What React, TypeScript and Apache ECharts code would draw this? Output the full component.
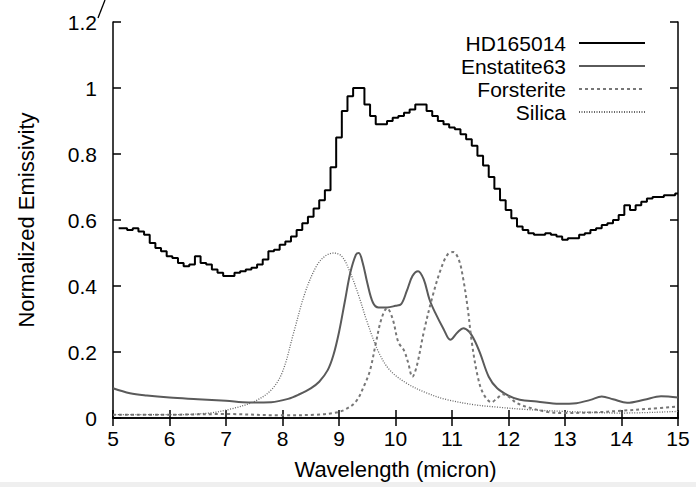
import React, { useEffect, useRef } from "react";
import * as echarts from "echarts";

const hdWave = [5.1, 5.2, 5.3, 5.4, 5.5, 5.6, 5.7, 5.8, 5.9, 6.0, 6.1, 6.2, 6.3, 6.4, 6.5, 6.6, 6.7, 6.8, 6.9, 7.0, 7.1, 7.2, 7.3, 7.4, 7.5, 7.6, 7.7, 7.8, 7.9, 8.0, 8.1, 8.2, 8.3, 8.4, 8.5, 8.6, 8.7, 8.8, 8.9, 9.0, 9.1, 9.2, 9.3, 9.4, 9.5, 9.6, 9.7, 9.8, 9.9, 10.0, 10.1, 10.2, 10.3, 10.4, 10.5, 10.6, 10.7, 10.8, 10.9, 11.0, 11.1, 11.2, 11.3, 11.4, 11.5, 11.6, 11.7, 11.8, 11.9, 12.0, 12.1, 12.2, 12.3, 12.4, 12.5, 12.6, 12.7, 12.8, 12.9, 13.0, 13.1, 13.2, 13.3, 13.4, 13.5, 13.6, 13.7, 13.8, 13.9, 14.0, 14.1, 14.2, 14.3, 14.4, 14.5, 14.6, 14.7, 14.8, 14.9, 15.0];
const hdFlux = [0.575, 0.575, 0.57, 0.575, 0.565, 0.555, 0.53, 0.515, 0.505, 0.49, 0.485, 0.47, 0.46, 0.465, 0.49, 0.47, 0.465, 0.45, 0.44, 0.43, 0.43, 0.44, 0.445, 0.45, 0.455, 0.465, 0.48, 0.505, 0.51, 0.525, 0.535, 0.55, 0.57, 0.59, 0.61, 0.635, 0.66, 0.69, 0.76, 0.85, 0.93, 0.975, 1.0, 1.0, 0.95, 0.915, 0.89, 0.89, 0.9, 0.91, 0.915, 0.925, 0.935, 0.95, 0.95, 0.93, 0.915, 0.9, 0.89, 0.88, 0.875, 0.86, 0.845, 0.825, 0.795, 0.765, 0.73, 0.695, 0.66, 0.63, 0.605, 0.58, 0.57, 0.56, 0.555, 0.555, 0.56, 0.555, 0.55, 0.54, 0.545, 0.545, 0.555, 0.56, 0.57, 0.575, 0.585, 0.59, 0.6, 0.615, 0.645, 0.63, 0.645, 0.655, 0.665, 0.67, 0.67, 0.675, 0.675, 0.68];

const enWave = [5.0, 5.3, 5.6, 6.0, 6.5, 7.0, 7.4, 7.8, 8.1, 8.3, 8.5, 8.65, 8.8, 8.9, 9.0, 9.1, 9.2, 9.3, 9.35, 9.42, 9.5, 9.6, 9.7, 9.85, 10.0, 10.1, 10.2, 10.3, 10.4, 10.5, 10.6, 10.7, 10.85, 10.97, 11.1, 11.2, 11.3, 11.4, 11.5, 11.65, 11.8, 12.0, 12.2, 12.5, 12.9, 13.2, 13.45, 13.65, 13.85, 14.1, 14.4, 14.7, 15.0];
const enFlux = [0.09, 0.075, 0.068, 0.062, 0.057, 0.052, 0.047, 0.048, 0.058, 0.072, 0.09, 0.11, 0.145, 0.19, 0.26, 0.35, 0.44, 0.495, 0.5, 0.47, 0.41, 0.35, 0.335, 0.335, 0.34, 0.345, 0.385, 0.43, 0.445, 0.42, 0.36, 0.32, 0.27, 0.237, 0.26, 0.272, 0.262, 0.235, 0.195, 0.125, 0.09, 0.068, 0.055, 0.05, 0.043, 0.045, 0.055, 0.065, 0.057, 0.046, 0.055, 0.066, 0.062];

const foWave = [5.0, 6.0, 7.0, 8.0, 8.6, 8.9, 9.1, 9.3, 9.45, 9.55, 9.65, 9.75, 9.85, 9.95, 10.05, 10.15, 10.22, 10.3, 10.38, 10.5, 10.65, 10.8, 10.92, 11.02, 11.12, 11.2, 11.28, 11.35, 11.45, 11.55, 11.7, 11.8, 11.9, 12.0, 12.15, 12.4, 12.7, 13.0, 13.5, 14.0, 14.5, 15.0];
const foFlux = [0.01, 0.01, 0.012, 0.008, 0.01, 0.015, 0.025, 0.05, 0.1, 0.145, 0.225, 0.3, 0.333, 0.3, 0.23, 0.205, 0.17, 0.125, 0.16, 0.26, 0.365, 0.45, 0.495, 0.503, 0.48, 0.42, 0.33, 0.23, 0.13, 0.075, 0.048, 0.06, 0.072, 0.065, 0.045, 0.03, 0.018, 0.015, 0.017, 0.022, 0.028, 0.035];

const siWave = [5.0, 6.0, 6.7, 7.1, 7.5, 7.8, 8.0, 8.2, 8.4, 8.6, 8.75, 8.9, 9.05, 9.2, 9.35, 9.5, 9.7, 9.9, 10.2, 10.55, 10.9, 11.4, 11.8, 12.3, 13.0, 14.0, 15.0];
const siFlux = [0.01, 0.01, 0.015, 0.028, 0.05, 0.085, 0.14, 0.26, 0.38, 0.46, 0.49, 0.5, 0.49, 0.44, 0.37, 0.29, 0.2, 0.145, 0.105, 0.076, 0.056, 0.04, 0.033, 0.026, 0.02, 0.015, 0.02];

const seriesNames = ["HD165014", "Enstatite63", "Forsterite", "Silica"];
const xTicks = { min: 5, max: 15, step: 1 };
const yTicks = { min: 0, max: 1.2, step: 0.2 };

const zip = (xs: number[], ys: number[]) => xs.map((x, i) => [x, ys[i]]);

const FONT = "Liberation Sans";

export default function App() {
  const ref = useRef<HTMLDivElement>(null);
  useEffect(() => {
    if (!ref.current) return;
    const chart = echarts.init(ref.current, undefined, { renderer: "svg" });
    const axisLine = { show: true, lineStyle: { color: "#000", width: 1.5 } };
    const tick = { show: true, inside: true, length: 8, lineStyle: { color: "#000", width: 1.5 } };
    chart.setOption({
      animation: false,
      backgroundColor: "#fff",
      textStyle: { fontFamily: FONT },
      grid: { left: 113, right: 18, top: 22, bottom: 69, containLabel: false },
      legend: {
        data: seriesNames,
        orient: "vertical",
        right: 45,
        top: 27,
        align: "right",
        itemWidth: 66,
        itemHeight: 12,
        itemGap: 1,
        itemStyle: { opacity: 0 },
        textStyle: { fontFamily: FONT, fontSize: 21, color: "#000", lineHeight: 22, padding: [0, 8, 0, 0] },
      },
      xAxis: [
        {
          type: "value",
          min: xTicks.min,
          max: xTicks.max,
          interval: xTicks.step,
          name: "Wavelength (micron)",
          nameLocation: "middle",
          nameGap: 40,
          nameTextStyle: { fontFamily: FONT, fontSize: 22, color: "#000" },
          axisLine,
          axisTick: tick,
          axisLabel: { fontFamily: FONT, fontSize: 21, color: "#000", margin: 10 },
          splitLine: { show: false },
        },
        {
          type: "value",
          position: "top",
          min: xTicks.min,
          max: xTicks.max,
          interval: xTicks.step,
          axisLine,
          axisTick: tick,
          axisLabel: { show: false },
          splitLine: { show: false },
        },
      ],
      yAxis: [
        {
          type: "value",
          min: yTicks.min,
          max: yTicks.max,
          interval: yTicks.step,
          name: "Normalized Emissivity",
          nameLocation: "middle",
          nameGap: 76,
          nameTextStyle: { fontFamily: FONT, fontSize: 22, color: "#000" },
          axisLine,
          axisTick: tick,
          axisLabel: { fontFamily: FONT, fontSize: 21, color: "#000", margin: 16 },
          splitLine: { show: false },
        },
        {
          type: "value",
          position: "right",
          min: yTicks.min,
          max: yTicks.max,
          interval: yTicks.step,
          axisLine,
          axisTick: tick,
          axisLabel: { show: false },
          splitLine: { show: false },
        },
      ],
      graphic: [
        { type: "line", shape: { x1: 98, y1: 18, x2: 105, y2: 0 }, style: { stroke: "#000", lineWidth: 1.3 } },
        { type: "rect", shape: { x: 0, y: 482, width: 696, height: 5 }, style: { fill: "#efefef" } },
      ],
      series: [
        {
          name: seriesNames[0],
          type: "line",
          step: "middle",
          symbol: "none",
          data: zip(hdWave, hdFlux),
          lineStyle: { color: "#000", width: 2 },
          itemStyle: { color: "#000" },
          z: 5,
        },
        {
          name: seriesNames[1],
          type: "line",
          smooth: 0.35,
          symbol: "none",
          data: zip(enWave, enFlux),
          lineStyle: { color: "#5a5a5a", width: 2 },
          itemStyle: { color: "#777" },
        },
        {
          name: seriesNames[2],
          type: "line",
          smooth: 0.35,
          symbol: "none",
          data: zip(foWave, foFlux),
          lineStyle: { color: "#777", width: 2, type: [3, 3] },
          itemStyle: { color: "#999" },
        },
        {
          name: seriesNames[3],
          type: "line",
          smooth: 0.35,
          symbol: "none",
          data: zip(siWave, siFlux),
          lineStyle: { color: "#666", width: 1.3, type: [1, 1.5] },
          itemStyle: { color: "#555" },
        },
      ],
    });
    return () => chart.dispose();
  }, []);
  return <div ref={ref} style={{ width: 696, height: 487, position: "absolute", left: 0, top: 0 }} />;
}
